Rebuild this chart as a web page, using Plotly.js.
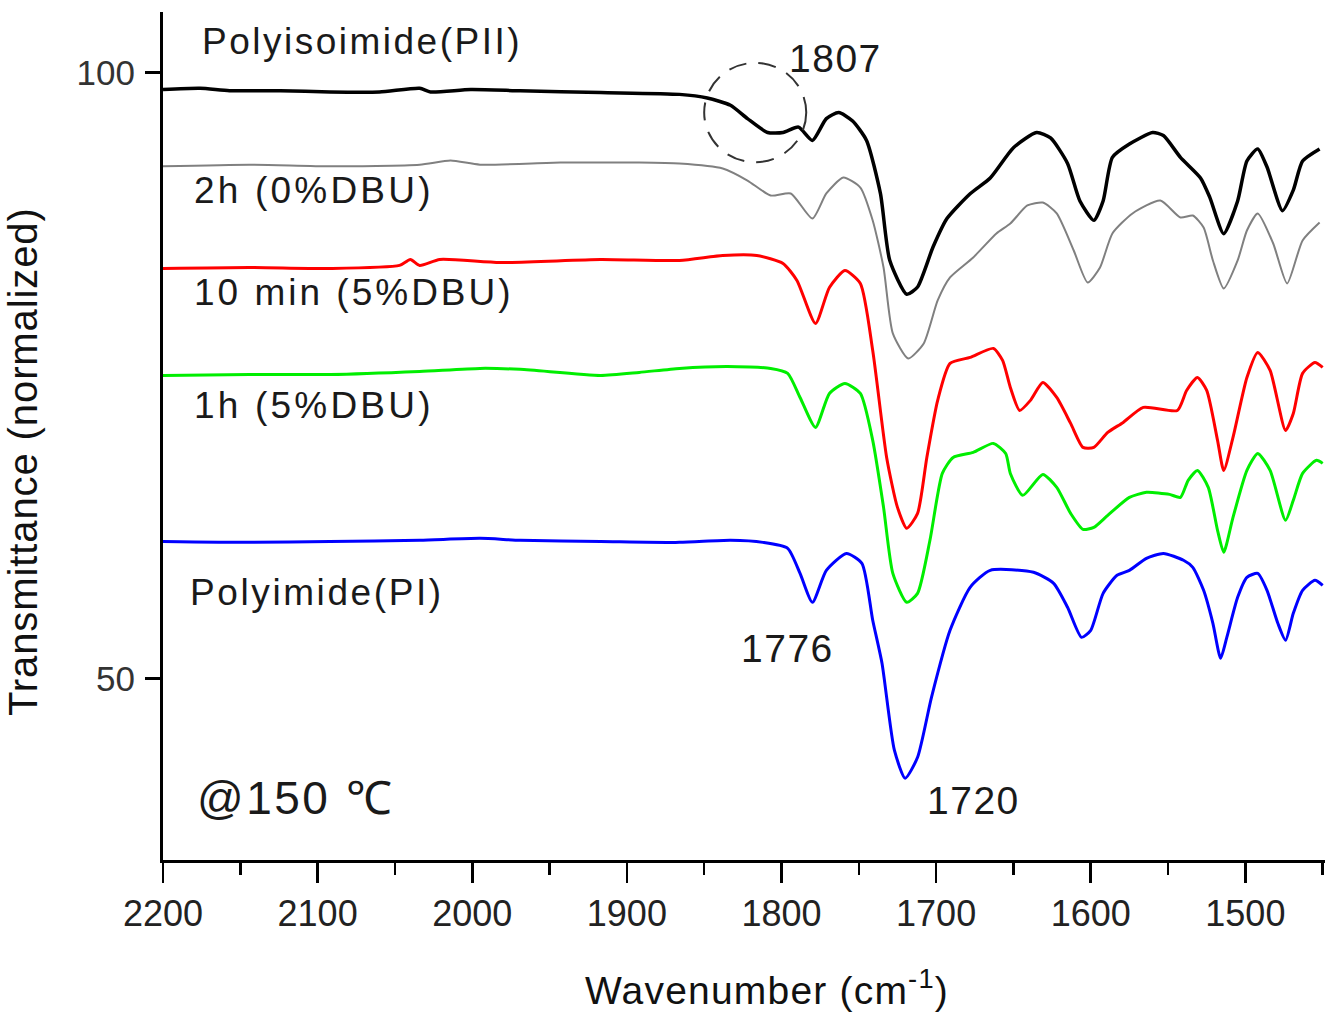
<!DOCTYPE html>
<html>
<head>
<meta charset="utf-8">
<script src="https://cdn.plot.ly/plotly-3.0.1.min.js"></script>
<style>
  html, body { margin: 0; padding: 0; background: #fff; }
  #ftir { width: 1339px; height: 1015px; }
</style>
</head>
<body>
<div id="ftir"></div>
<script>
// FTIR spectra, wavenumber (cm-1) vs transmittance (normalized)

// Polyisoimide (PII)
const piiWave = [2200, 2176, 2157, 2124, 2092, 2060, 2034, 2027, 2001, 1969, 1917, 1866,
  1848, 1833, 1822, 1809, 1799, 1789, 1780, 1771, 1763, 1754, 1745, 1736, 1730, 1719, 1712, 1702, 1693, 1678, 1665,
  1650, 1635, 1626, 1615, 1607, 1598, 1592, 1586, 1575, 1560, 1553, 1542, 1529, 1523, 1514, 1505, 1499, 1492, 1486, 1476, 1469, 1463, 1452];
const piiT = [98.6, 98.7, 98.5, 98.5, 98.4, 98.4, 98.7, 98.4, 98.6, 98.5, 98.35, 98.2,
  97.9, 97.3, 96.2, 95.05, 95.05, 95.5, 94.4, 96.2, 96.7, 96.0, 94.4, 90.0, 84.5, 81.7, 82.3, 85.6, 87.95, 90.0, 91.3,
  93.8, 95.05, 94.6, 92.5, 89.4, 87.8, 89.4, 93.0, 94.1, 95.05, 94.8, 93.0, 91.3, 89.7, 86.7, 89.4, 92.7, 93.7, 92.2, 88.6, 90.3, 92.7, 93.7];

// 2h (0%DBU)
const h2Wave = [2200, 2144, 2092, 2034, 2014, 1995, 1943, 1892, 1866,
  1838, 1822, 1807, 1794, 1780, 1771, 1760, 1749, 1741, 1734, 1728, 1718, 1708, 1699, 1691, 1676, 1661,
  1652, 1641, 1631, 1622, 1611, 1602, 1594, 1586, 1573, 1555, 1542, 1534, 1527, 1521, 1514, 1505, 1499, 1492, 1482, 1473, 1463, 1452];
const h2T = [92.26, 92.4, 92.26, 92.4, 92.74, 92.4, 92.57, 92.57, 92.49,
  92.08, 91.09, 89.85, 90.02, 87.95, 90.02, 91.34, 90.51, 87.79, 83.91, 78.47, 76.4, 77.64, 81.19, 83.09, 84.74, 86.72,
  87.54, 89.03, 89.27, 88.37, 85.31, 82.67, 83.91, 86.72, 88.37, 89.44, 88.04, 88.2, 87.21, 84.49, 82.18, 84.49, 86.96, 88.37, 85.89, 82.59, 86.14, 87.62];

// 10 min (5%DBU)
const m10Wave = [2200, 2144, 2092, 2047, 2040, 2034, 2021, 1982, 1917, 1866, 1838, 1816,
  1799, 1790, 1778, 1769, 1759, 1749, 1741, 1732, 1725, 1719, 1712, 1706, 1699, 1691, 1678, 1663,
  1657, 1652, 1646, 1639, 1631, 1622, 1613, 1605, 1598, 1589, 1579, 1566, 1544, 1538, 1531, 1525,
  1518, 1514, 1508, 1499, 1492, 1484, 1474, 1469, 1463, 1455, 1450];
const m10T = [83.83, 83.91, 83.83, 84.08, 84.57, 84.08, 84.57, 84.32, 84.57, 84.49, 84.9, 84.9,
  84.24, 82.84, 79.29, 82.26, 83.66, 82.59, 77.06, 68.23, 64.11, 62.38, 63.61, 68.23, 72.94, 75.99, 76.49, 77.23,
  76.24, 74.01, 72.11, 72.94, 74.42, 73.18, 71.04, 69.06, 69.06, 70.3, 71.12, 72.36, 72.11, 73.76, 74.83, 73.76,
  69.64, 67.16, 69.88, 74.83, 76.9, 75.41, 70.46, 71.86, 75.17, 76.07, 75.66];

// 1h (5%DBU)
const h1Wave = [2200, 2144, 2092, 2034, 1995, 1969, 1917, 1892, 1866, 1835, 1807,
  1796, 1788, 1778, 1769, 1759, 1749, 1741, 1734, 1728, 1719, 1712, 1704, 1696, 1689, 1676, 1663,
  1655, 1652, 1644, 1631, 1622, 1613, 1605, 1598, 1589, 1575, 1564, 1549, 1542, 1537, 1531, 1524,
  1518, 1514, 1508, 1499, 1492, 1484, 1474, 1469, 1463, 1454, 1450];
const h1T = [75.0, 75.08, 75.08, 75.33, 75.58, 75.5, 75.0, 75.25, 75.58, 75.74, 75.58,
  75.17, 73.18, 70.71, 73.51, 74.34, 73.51, 69.64, 64.11, 58.66, 56.27, 57.01, 61.39, 66.91, 68.23, 68.65, 69.39,
  68.56, 66.91, 65.1, 66.83, 65.76, 63.61, 62.29, 62.46, 63.45, 64.93, 65.35, 65.18, 64.93, 66.34, 67.16, 65.76,
  62.21, 60.4, 63.28, 67.16, 68.56, 67.16, 63.04, 64.69, 66.91, 67.99, 67.74];

// Polyimide (PI)
const piWave = [2200, 2144, 2092, 2034, 1995, 1969, 1917, 1866, 1833, 1812,
  1796, 1788, 1780, 1771, 1758, 1748, 1741, 1735, 1727, 1720, 1712, 1703, 1691, 1678, 1665,
  1637, 1624, 1615, 1606, 1600, 1592, 1583, 1575, 1564, 1553, 1540, 1534, 1527, 1521, 1516, 1512,
  1505, 1499, 1492, 1486, 1479, 1474, 1469, 1463, 1455, 1450];
const piT = [61.3, 61.22, 61.3, 61.39, 61.55, 61.39, 61.3, 61.22, 61.39, 61.22,
  60.73, 58.66, 56.27, 58.91, 60.31, 59.49, 54.79, 51.24, 44.06, 41.75, 43.48, 48.43, 53.96, 57.51, 58.91,
  58.75, 57.84, 55.86, 53.38, 53.96, 57.01, 58.5, 58.91, 59.9, 60.31, 59.74, 59.16, 57.26, 54.54, 51.65, 53.38,
  56.68, 58.33, 58.66, 57.26, 54.54, 53.14, 55.36, 57.26, 58.09, 57.67];

const labelFont = { family: "Arial, 'Liberation Sans', sans-serif", size: 37, color: "#1a1a1a" };

function spectrum(x, y, color, width) {
  return {
    x: x,
    y: y,
    type: "scatter",
    mode: "lines",
    line: { color: color, width: width, shape: "spline", smoothing: 0.6 },
    hoverinfo: "skip",
    showlegend: false
  };
}

var data = [
  spectrum(piWave, piT, "#0000ff", 3),
  spectrum(h1Wave, h1T, "#00ee00", 3),
  spectrum(m10Wave, m10T, "#ff0000", 3),
  spectrum(h2Wave, h2T, "#808080", 2),
  spectrum(piiWave, piiT, "#000000", 3.5)
];

// the original labels are drawn a bit wider than Arial, so spread the letters
function spaced(text, px) {
  return '<span style="letter-spacing:' + px + 'px">' + text + '</span>';
}

function note(text, x, y, anchor, size, spacing) {
  var f = Object.assign({}, labelFont);
  if (size) f.size = size;
  return { text: spaced(text, spacing), x: x, y: y, xref: "x", yref: "y", xanchor: anchor, yanchor: "middle", showarrow: false, font: f };
}

var layout = {
  width: 1339,
  height: 1015,
  margin: { l: 163, r: 14, t: 12, b: 155 },
  paper_bgcolor: "#fff",
  plot_bgcolor: "#fff",
  font: { family: "Arial, 'Liberation Sans', sans-serif", color: "#1a1a1a" },
  xaxis: {
    range: [2200, 1448.5],
    showgrid: false,
    zeroline: false,
    showline: true,
    linewidth: 3,
    linecolor: "#000",
    ticks: "outside",
    ticklen: 20,
    tickwidth: 2.5,
    tickcolor: "#000",
    dtick: 100,
    tick0: 2200,
    ticklabelstandoff: 0,
    tickfont: { size: 36, color: "#222" },
    minor: { dtick: 50, ticks: "outside", ticklen: 12, tickwidth: 2.5, tickcolor: "#000", showgrid: false }
  },
  yaxis: {
    range: [35, 105],
    showgrid: false,
    zeroline: false,
    showline: true,
    linewidth: 3,
    linecolor: "#000",
    ticks: "outside",
    ticklen: 15,
    tickwidth: 2.5,
    tickcolor: "#000",
    tick0: 0,
    dtick: 50,
    ticklabelstandoff: 3,
    tickfont: { size: 35, color: "#333" }
  },
  shapes: [
    {
      type: "circle", xref: "x", yref: "y",
      x0: 1850, x1: 1784, y0: 92.6, y1: 100.8,
      line: { color: "#333", width: 2, dash: "18px,12px" }
    }
  ],
  annotations: [
    note("Polyisoimide(PII)", 2176, 102.6, "left", 37, 2.5),
    note("2h (0%DBU)", 2181, 90.3, "left", 37, 3.2),
    note("10 min (5%DBU)", 2181, 81.85, "left", 37, 3),
    note("1h (5%DBU)", 2181, 72.5, "left", 37, 3.2),
    note("Polyimide(PI)", 2184, 57.1, "left", 37, 2.6),
    note("1807", 1765, 101.2, "center", 39, 1.5),
    note("1776", 1796, 52.5, "center", 39, 1.5),
    note("1720", 1676, 39.9, "center", 39, 1.5),
    note("@150 ℃", 2179, 40.1, "left", 46, 2.5),
    {
      text: spaced("Wavenumber (cm<sup>-1</sup>)", 1.2),
      xref: "paper", yref: "paper", x: 0.5194, y: 0, yshift: -127,
      xanchor: "center", yanchor: "middle", showarrow: false,
      font: { size: 39, color: "#111" }
    },
    {
      text: spaced("Transmittance (normalized)", 0.9),
      xref: "paper", yref: "paper", x: 0, y: 0.4693, xshift: -116,
      xanchor: "right", yanchor: "middle", textangle: -90, showarrow: false,
      font: { size: 40, color: "#111" }
    }
  ]
};

Plotly.newPlot("ftir", data, layout, { displayModeBar: false, staticPlot: true });
</script>
</body>
</html>
